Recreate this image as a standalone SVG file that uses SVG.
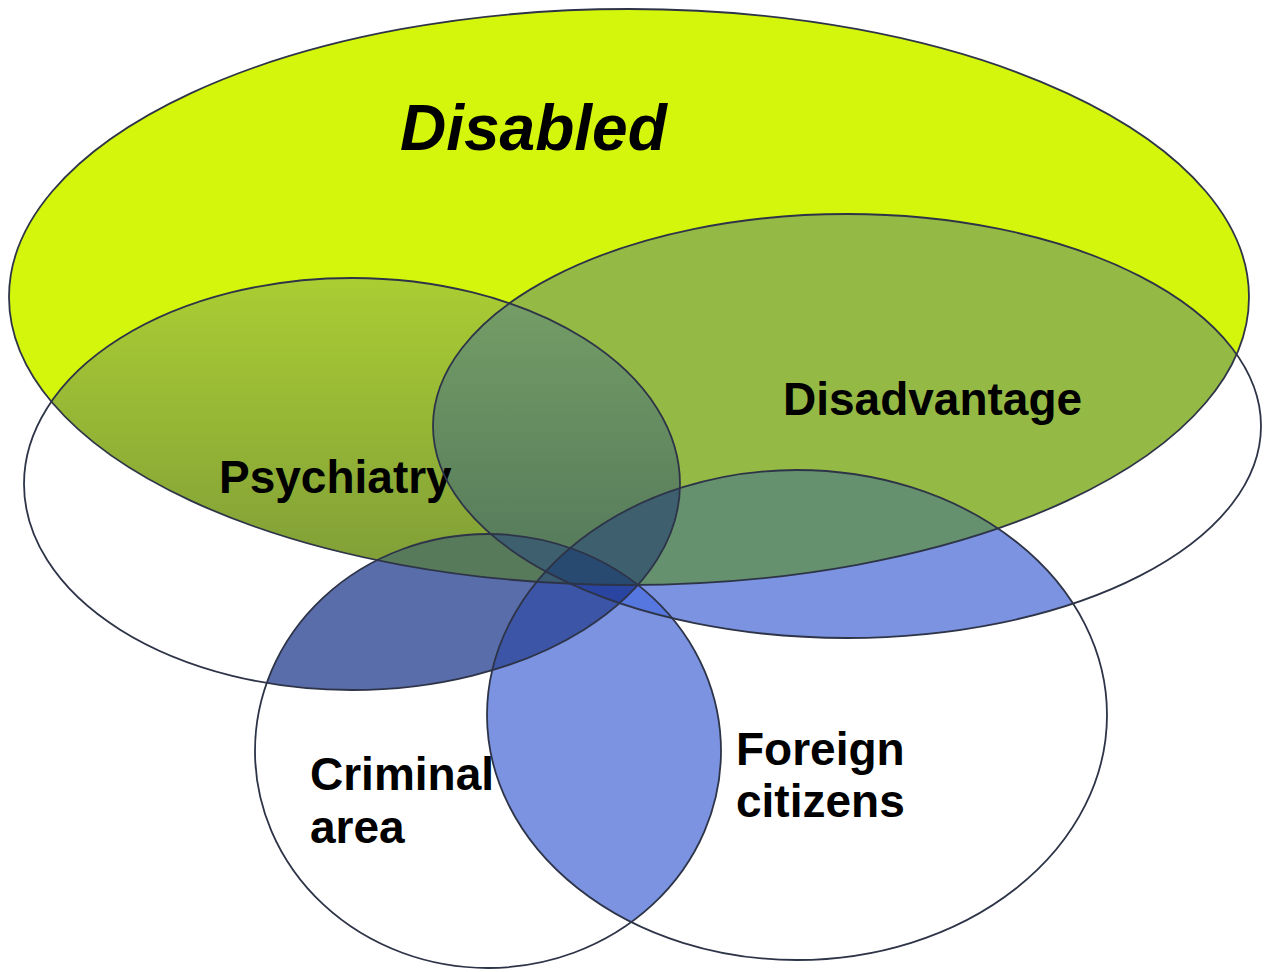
<svg xmlns="http://www.w3.org/2000/svg" xmlns:xlink="http://www.w3.org/1999/xlink" width="1264" height="972" viewBox="0 0 1264 972">
  <style>
    .outline { fill: none; stroke: #2e3448; stroke-width: 1.8; }
    .label { font-family: "Liberation Sans", Arial, sans-serif; font-weight: bold; font-size: 46px; fill: #000; }
    .title { font-family: "Liberation Sans", Arial, sans-serif; font-weight: bold; font-style: italic; font-size: 64px; fill: #000; }
  </style>
  <defs>
    <!-- the five set shapes -->
    <ellipse id="eD" cx="629" cy="297" rx="620" ry="288"/>
    <ellipse id="eP" cx="352" cy="484" rx="328" ry="206"/>
    <ellipse id="eA" cx="847" cy="426" rx="414" ry="212"/>
    <ellipse id="eC" cx="488" cy="751" rx="233" ry="217"/>
    <ellipse id="eF" cx="797" cy="715" rx="310" ry="245"/>
    <clipPath id="cD"><use xlink:href="#eD"/></clipPath>
    <clipPath id="cP"><use xlink:href="#eP"/></clipPath>
    <clipPath id="cA"><use xlink:href="#eA"/></clipPath>
    <clipPath id="cC"><use xlink:href="#eC"/></clipPath>
    <clipPath id="cF"><use xlink:href="#eF"/></clipPath>
    <linearGradient id="gP" gradientUnits="userSpaceOnUse" x1="0" y1="280" x2="0" y2="585">
      <stop offset="0" stop-color="#aacd33"/>
      <stop offset="1" stop-color="#7e9c38"/>
    </linearGradient>
    <linearGradient id="gPA" gradientUnits="userSpaceOnUse" x1="0" y1="300" x2="0" y2="585">
      <stop offset="0" stop-color="#749d66"/>
      <stop offset="1" stop-color="#53775a"/>
    </linearGradient>
  </defs>

  <rect width="1264" height="972" fill="#ffffff"/>

  <!-- overlap shading below the Disabled set -->
  <g id="shading-outer">
    <g clip-path="url(#cC)"><use xlink:href="#eP" fill="#5a6dab"/></g>
    <g clip-path="url(#cC)"><use xlink:href="#eF" fill="#7b93e0"/></g>
    <g clip-path="url(#cA)"><use xlink:href="#eF" fill="#7b93e0"/></g>
    <g clip-path="url(#cA)"><g clip-path="url(#cC)"><use xlink:href="#eF" fill="#5677df"/></g></g>
    <g clip-path="url(#cP)"><g clip-path="url(#cC)"><use xlink:href="#eF" fill="#3d55a6"/></g></g>
    <g clip-path="url(#cP)"><g clip-path="url(#cC)"><g clip-path="url(#cA)"><use xlink:href="#eF" fill="#2a44a2"/></g></g></g>
  </g>

  <!-- shading inside the Disabled set -->
  <g id="shading-disabled" clip-path="url(#cD)">
    <use xlink:href="#eD" fill="#d4f50c"/>
    <use xlink:href="#eP" fill="url(#gP)"/>
    <use xlink:href="#eA" fill="#95b945"/>
    <g clip-path="url(#cP)"><use xlink:href="#eA" fill="url(#gPA)"/></g>
    <g clip-path="url(#cA)"><use xlink:href="#eF" fill="#65916e"/></g>
    <g clip-path="url(#cP)"><use xlink:href="#eC" fill="#577a5b"/></g>
    <g clip-path="url(#cP)"><g clip-path="url(#cA)"><use xlink:href="#eF" fill="#3e606e"/></g></g>
    <g clip-path="url(#cP)"><g clip-path="url(#cA)"><use xlink:href="#eC" fill="#3e606e"/></g></g>
    <g clip-path="url(#cP)"><g clip-path="url(#cC)"><use xlink:href="#eF" fill="#3a5a70"/></g></g>
    <g clip-path="url(#cP)"><g clip-path="url(#cA)"><g clip-path="url(#cC)"><use xlink:href="#eF" fill="#284a70"/></g></g></g>
  </g>

  <g id="node-disabled">
    <use xlink:href="#eD" class="outline"/>
    <text class="title" x="400" y="150">Disabled</text>
  </g>
  <g id="node-psychiatry">
    <use xlink:href="#eP" class="outline"/>
    <text class="label" x="219" y="493">Psychiatry</text>
  </g>
  <g id="node-disadvantage">
    <use xlink:href="#eA" class="outline"/>
    <text class="label" x="783" y="415">Disadvantage</text>
  </g>
  <g id="node-criminal">
    <use xlink:href="#eC" class="outline"/>
    <text class="label" x="310" y="790">Criminal</text>
    <text class="label" x="310" y="843">area</text>
  </g>
  <g id="node-foreign">
    <use xlink:href="#eF" class="outline"/>
    <text class="label" x="736" y="765">Foreign</text>
    <text class="label" x="736" y="817">citizens</text>
  </g>

  <g id="connectors"/>
</svg>
